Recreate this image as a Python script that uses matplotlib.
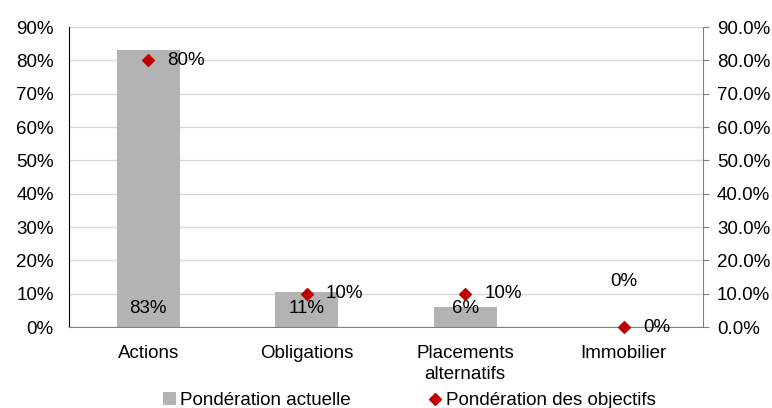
import matplotlib.pyplot as plt
from matplotlib.ticker import FuncFormatter
from matplotlib.lines import Line2D
from matplotlib.patches import Patch

categories = ["Actions", "Obligations", "Placements\nalternatifs", "Immobilier"]
actuelle = [83.1, 10.6, 6.1, 0.0]
objectifs = [80, 10, 10, 0]
actuelle_labels = ["83%", "11%", "6%", "0%"]
objectifs_labels = ["80%", "10%", "10%", "0%"]

plt.rcParams['font.family'] = ['Liberation Sans', 'DejaVu Sans']
fs = 13.5

fig = plt.figure(figsize=(7.72, 4.08), dpi=100)
ax = fig.add_axes([69 / 772, 1 - 327 / 408, 634 / 772, 300 / 408])
x = list(range(len(categories)))

ax.bar(x, actuelle, width=0.4, color='#b3b3b3', zorder=2)
ax.set_xlim(-0.5, 3.5)
ax.set_ylim(0, 90)
ax.set_yticks(range(0, 91, 10))
ax.yaxis.set_major_formatter(FuncFormatter(lambda v, p: f"{v:.0f}%"))
ax.set_xticks(x)
ax.set_xticklabels(categories, fontsize=fs, linespacing=1.3)
ax.tick_params(axis='y', labelsize=fs, length=0, pad=11)
ax.tick_params(axis='x', length=0, pad=13)
ax.grid(axis='y', color='#d9d9d9', linewidth=1, zorder=0)
ax.set_axisbelow(True)
for s in ['top', 'right']:
    ax.spines[s].set_visible(False)
ax.spines['left'].set_color('black')
ax.spines['bottom'].set_color('#808080')

# étiquettes des barres
for i, v in enumerate(actuelle):
    if v > 3:
        ax.text(i, 5.5, actuelle_labels[i], ha='center', va='center', fontsize=fs, zorder=5)
    else:
        ax.text(i, 13.5, actuelle_labels[i], ha='center', va='center', fontsize=fs, zorder=5)

ax2 = ax.twinx()
ax2.set_ylim(0, 90)
ax2.set_yticks(range(0, 91, 10))
ax2.yaxis.set_major_formatter(FuncFormatter(lambda v, p: f"{v:.1f}%"))
ax2.tick_params(axis='y', labelsize=fs, direction='out', length=4, color='#808080', pad=6)
for s in ['top', 'left', 'bottom']:
    ax2.spines[s].set_visible(False)
ax2.spines['right'].set_color('#808080')
ax2.scatter(x, objectifs, marker='D', s=36, color='#c00000', zorder=6, clip_on=False)
for i, v in enumerate(objectifs):
    ax2.text(i + 0.12, v, objectifs_labels[i], ha='left', va='center', fontsize=fs, zorder=7)

handles = [Patch(facecolor='#b3b3b3', label='Pondération actuelle'),
           Line2D([], [], marker='D', linestyle='none', color='#c00000', markersize=6,
                  label='Pondération des objectifs')]
fig.legend(handles=handles, loc='lower center', ncol=2, frameon=False, fontsize=fs,
           bbox_to_anchor=(0.53, -0.045), handlelength=0.7, handletextpad=0.2, columnspacing=4.2)

plt.savefig('out.png', dpi=100)
